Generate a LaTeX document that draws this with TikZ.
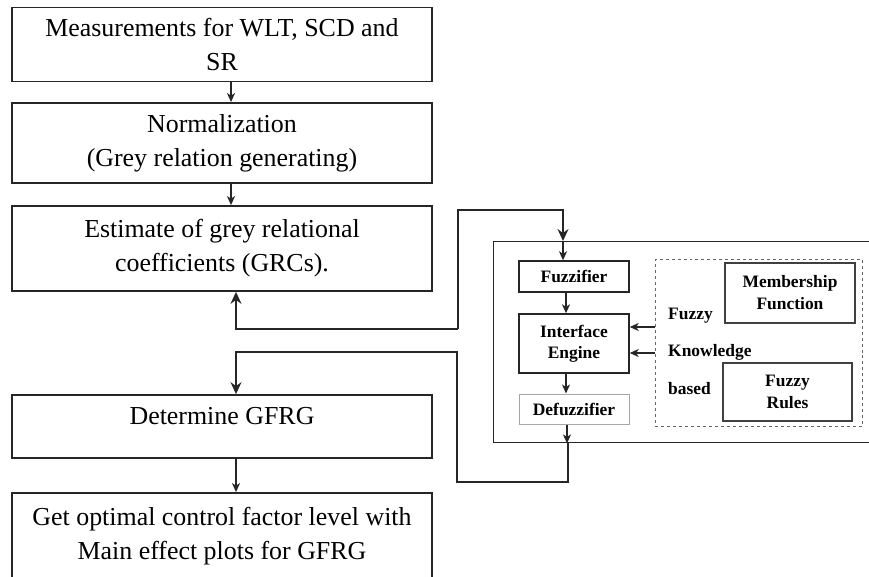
\documentclass[tikz,border=0pt]{standalone}
\usepackage{fontspec}
\setmainfont{Liberation Serif}
\usetikzlibrary{arrows.meta,calc}
\begin{document}
\begin{tikzpicture}[x=1bp,y=-1bp,
  lbox/.style={draw=black!85,line width=1.8bp,minimum width=420bp,inner sep=0pt,align=center,
    font=\fontsize{26}{34}\selectfont},
  rbox/.style={draw=black!85,line width=1.4bp,minimum width=110bp,inner sep=0pt,align=center,
    font=\bfseries\fontsize{17.5}{21}\selectfont},
  kbox/.style={draw=black!75,line width=1.1bp,inner sep=0pt,align=center,
    font=\bfseries\fontsize{17.5}{22}\selectfont},
  ktext/.style={anchor=west,inner sep=0pt,font=\bfseries\fontsize{17.5}{21}\selectfont},
  conn/.style={draw=black!85,line width=1.3bp,-{Stealth[length=9bp,width=8bp,inset=2.5bp]}},
  bigconn/.style={draw=black!85,line width=1.6bp},
  bigtip/.style={-{Stealth[length=12bp,width=11bp,inset=4bp]}}
]
\useasboundingbox (0,0) rectangle (869,577);
\clip (0,0) rectangle (869,577);
% left flow
\node[lbox,minimum height=74bp] (b1) at (222,44.5) {Measurements for WLT, SCD and\\SR};
\node[lbox,minimum height=80bp] (b2) at (222,143) {Normalization\\(Grey relation generating)};
\node[lbox,minimum height=85bp] (b3) at (222,248.5) {Estimate of grey relational\\coefficients (GRCs).};
\node[lbox,minimum height=63bp,text depth=21bp] (b4) at (222,426.5) {Determine GFRG};
\node[lbox,minimum height=86bp] (b5) at (222,536) {Get optimal control factor level with\\Main effect plots for GFRG};
\draw[conn] (b1.south -| 231,0) -- (b2.north -| 231,0);
\draw[conn] (b2.south -| 231,0) -- (b3.north -| 231,0);
\draw[conn] (b4.south -| 236,0) -- (b5.north -| 236,0);
% fuzzy inference system
\node[draw=black!85,line width=1.4bp,minimum width=390bp,minimum height=201bp,inner sep=0pt,anchor=north west] (fis) at (493,241) {};
\node[rbox,minimum height=31bp] (fz) at (574,276.5) {Fuzzifier};
\node[rbox,minimum height=59bp] (ie) at (574,343.5) {Interface\\Engine};
\node[rbox,draw=black!35,line width=1bp,minimum height=30bp] (dz) at (574,409) {Defuzzifier};
\node[draw=black!60,dashed,line width=0.9bp,minimum width=207bp,minimum height=167bp,inner sep=0pt,anchor=north west] (kb) at (655,259) {};
\node[kbox,minimum width=130bp,minimum height=60bp] (mf) at (790,293) {Membership\\Function};
\node[kbox,minimum width=129bp,minimum height=58bp] (fr) at (787.5,392) {Fuzzy\\Rules};
\node[ktext] (t1) at (668,316) {Fuzzy};
\node[ktext] (t2) at (668,352) {Knowledge};
\node[ktext] (t3) at (668,389) {based};
\draw[conn] (kb.west |- 0,327) -- (ie.east |- 0,327);
\draw[conn] (kb.west |- 0,353) -- (ie.east |- 0,353);
\draw[conn] (fz.south -| 566,0) -- (ie.north -| 566,0);
\draw[conn] (ie.south -| 566,0) -- (dz.north -| 566,0);
\draw[conn] (dz.south -| 567,0) -- (fis.south -| 567,0);
\draw[conn] (fis.north -| 563,0) -- (fz.north -| 563,0);
% loops
\coordinate (j1) at (458,329);
\coordinate (j2) at (568,482);
\draw[bigconn,bigtip] (j1) -- (236,329) -- (b3.south -| 236,0);
\draw[bigconn,bigtip] (j1) -- (458,210) -- (563,210) -- (fis.north -| 563,0);
\draw[bigconn,bigtip] (fis.south -| 568,0) -- (j2) -- (457,482) -- (457,352) -- (236,352) -- (b4.north -| 236,0);
\end{tikzpicture}
\end{document}
